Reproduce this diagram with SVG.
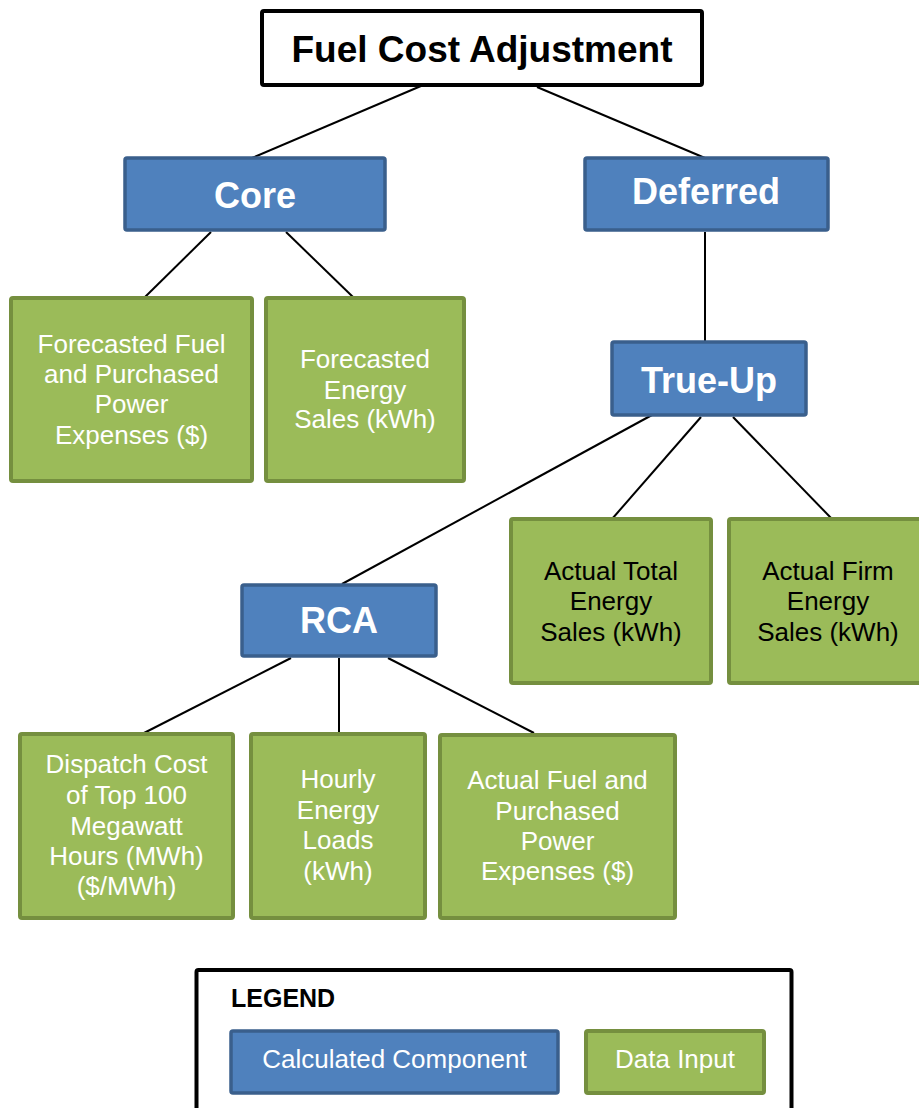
<svg xmlns="http://www.w3.org/2000/svg" width="919" height="1108" viewBox="0 0 919 1108">
<style>
.blue{fill:#4F81BD;stroke:#3A5F8C;stroke-width:3.5}
.green{fill:#9BBB59;stroke:#758F3F;stroke-width:4}
.frame{fill:#fff;stroke:#000;stroke-width:4}
.hd{font-family:"Liberation Sans",Arial,sans-serif;font-weight:bold;font-size:36px;text-anchor:middle}
.tx{font-family:"Liberation Sans",Arial,sans-serif;font-size:26px;text-anchor:middle}
.w{fill:#fff}
.k{fill:#000}
.conn line{stroke:#000;stroke-width:2}
</style>
<rect width="919" height="1108" fill="#fff"/>
<g id="connectors" class="conn">
<line x1="428" y1="83" x2="252" y2="158"/>
<line x1="537" y1="87" x2="705" y2="158"/>
<line x1="211" y1="232" x2="145" y2="297"/>
<line x1="286" y1="232" x2="353" y2="297"/>
<line x1="705" y1="232" x2="705" y2="341"/>
<line x1="652" y1="415" x2="342" y2="584"/>
<line x1="701" y1="417" x2="612" y2="519"/>
<line x1="733" y1="417" x2="832" y2="519"/>
<line x1="291" y1="658" x2="144" y2="733"/>
<line x1="339" y1="658" x2="339" y2="733"/>
<line x1="388" y1="658" x2="534" y2="733"/>
</g>
<g id="title">
<rect class="frame" x="262" y="11" width="440" height="74" rx="2"/>
<text class="hd k" x="482" y="62" style="font-size:37px">Fuel Cost Adjustment</text>
</g>
<g id="core">
<rect class="blue" x="125" y="158" width="260" height="72" rx="2"/>
<text class="hd w" x="255" y="208">Core</text>
</g>
<g id="deferred">
<rect class="blue" x="585" y="158" width="243" height="72" rx="2"/>
<text class="hd w" x="706" y="204">Deferred</text>
</g>
<g id="forecasted-fuel">
<rect class="green" x="11" y="298" width="241" height="183" rx="2"/>
<text class="tx w" x="131.5" y="353">Forecasted Fuel</text>
<text class="tx w" x="131.5" y="383">and Purchased</text>
<text class="tx w" x="131.5" y="413">Power</text>
<text class="tx w" x="131.5" y="444">Expenses ($)</text>
</g>
<g id="forecasted-sales">
<rect class="green" x="266" y="298" width="198" height="183" rx="2"/>
<text class="tx w" x="365" y="368">Forecasted</text>
<text class="tx w" x="365" y="399">Energy</text>
<text class="tx w" x="365" y="428">Sales (kWh)</text>
</g>
<g id="true-up">
<rect class="blue" x="612" y="342" width="194" height="73" rx="2"/>
<text class="hd w" x="709" y="393">True-Up</text>
</g>
<g id="actual-total">
<rect class="green" x="511" y="519" width="200" height="164" rx="2"/>
<text class="tx k" x="611" y="580">Actual Total</text>
<text class="tx k" x="611" y="610">Energy</text>
<text class="tx k" x="611" y="641">Sales (kWh)</text>
</g>
<g id="actual-firm">
<rect class="green" x="729" y="519" width="200" height="164" rx="2"/>
<text class="tx k" x="828" y="580">Actual Firm</text>
<text class="tx k" x="828" y="610">Energy</text>
<text class="tx k" x="828" y="641">Sales (kWh)</text>
</g>
<g id="rca">
<rect class="blue" x="242" y="585" width="194" height="71" rx="2"/>
<text class="hd w" x="339" y="633">RCA</text>
</g>
<g id="dispatch">
<rect class="green" x="20" y="734" width="213" height="184" rx="2"/>
<text class="tx w" x="126.5" y="773">Dispatch Cost</text>
<text class="tx w" x="126.5" y="804">of Top 100</text>
<text class="tx w" x="126.5" y="835">Megawatt</text>
<text class="tx w" x="126.5" y="865">Hours (MWh)</text>
<text class="tx w" x="126.5" y="895">($/MWh)</text>
</g>
<g id="hourly">
<rect class="green" x="251" y="734" width="174" height="184" rx="2"/>
<text class="tx w" x="338" y="788">Hourly</text>
<text class="tx w" x="338" y="819">Energy</text>
<text class="tx w" x="338" y="849">Loads</text>
<text class="tx w" x="338" y="880">(kWh)</text>
</g>
<g id="actual-fuel">
<rect class="green" x="440" y="735" width="235" height="183" rx="2"/>
<text class="tx w" x="557.5" y="789">Actual Fuel and</text>
<text class="tx w" x="557.5" y="820">Purchased</text>
<text class="tx w" x="557.5" y="850">Power</text>
<text class="tx w" x="557.5" y="880">Expenses ($)</text>
</g>
<g id="legend">
<rect class="frame" x="196.5" y="970" width="595" height="160" rx="2"/>
<text x="231" y="1007" style="font-family:'Liberation Sans',Arial,sans-serif;font-weight:bold;font-size:25px" fill="#000">LEGEND</text>
<rect class="blue" x="231" y="1031" width="327" height="62" rx="2"/>
<text class="tx w" x="394.5" y="1068">Calculated Component</text>
<rect class="green" x="586" y="1031" width="178" height="62" rx="2"/>
<text class="tx w" x="675" y="1068">Data Input</text>
</g>
</svg>
